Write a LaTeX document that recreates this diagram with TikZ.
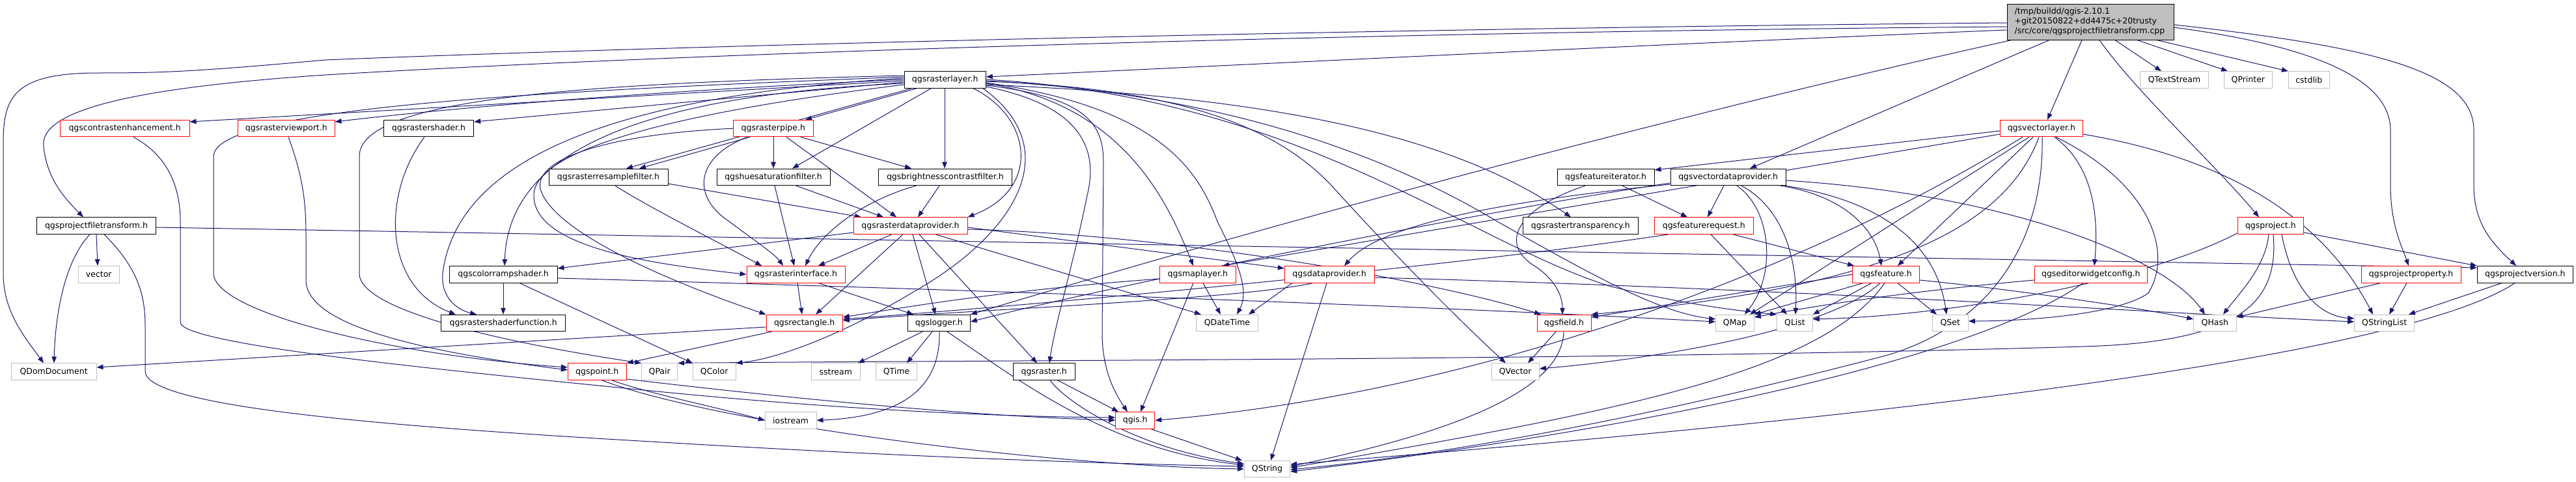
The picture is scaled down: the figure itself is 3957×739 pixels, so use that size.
\documentclass[tikz,border=0pt]{standalone}
\usepackage{fontspec}
\setmainfont{DejaVu Sans}
\usetikzlibrary{arrows.meta}
\definecolor{edgec}{HTML}{191970}
\definecolor{nodered}{HTML}{FF0000}
\definecolor{nodegrey}{HTML}{BFBFBF}
\definecolor{topfill}{HTML}{BFBFBF}
\pgfdeclarelayer{bgfill}
\pgfdeclarelayer{edges}
\pgfsetlayers{bgfill,edges,main}
\newcommand\nd[6]{\node[box,#5,minimum width={(#3)-(#2)}] (#1) at ({((#2)+(#3))/2},#4) {#6};}
\tikzset{
  box/.style={rectangle, fill=white, minimum height=25.5pt, inner sep=0pt, line width=1pt, font=\fontsize{12.5}{15}\selectfont, text=black},
  bbox/.style={draw=black},
  rbox/.style={draw=nodered},
  gbox/.style={draw=nodegrey},
  e/.style={draw=edgec, line width=1pt, -{Triangle[length=10pt,width=7.5pt]}}
}
\begin{document}
\begin{tikzpicture}[x=1pt,y=-1pt]
\begin{pgfonlayer}{bgfill}
\fill[white] (0,0) rectangle (3957,739);
\end{pgfonlayer}
\useasboundingbox (0,0) rectangle (3957,739);
% nodes
\node[rectangle, draw=black, fill=topfill, line width=1pt, minimum width=256pt, minimum height=55pt, inner sep=0pt, text width=233pt, align=left, font=\fontsize{12.5}{15}\selectfont] (top) at (3211,33.5) {/tmp/buildd/qgis-2.10.1\\+git20150822+dd4475c+20trusty\\/src/core/qgsprojectfiletransform.cpp};
\nd{rlayer}{1389}{1514.3}{122.5}{bbox}{qgsrasterlayer.h}
\nd{qtextstream}{3287.3}{3392.7}{122.5}{gbox}{QTextStream}
\nd{qprinter}{3416}{3490.7}{122.5}{gbox}{QPrinter}
\nd{cstdlib}{3515.3}{3578.3}{122.5}{gbox}{cstdlib}
\nd{contrast}{92.3}{291}{197.2}{rbox}{qgscontrastenhancement.h}
\nd{viewport}{365.7}{514}{197.2}{rbox}{qgsrasterviewport.h}
\nd{shader}{589.3}{727.7}{197.2}{bbox}{qgsrastershader.h}
\nd{pipe}{1126.3}{1249.3}{197.2}{rbox}{qgsrasterpipe.h}
\nd{vlayer}{3072.3}{3199.3}{197.2}{rbox}{qgsvectorlayer.h}
\nd{resample}{843}{1026}{271.9}{bbox}{qgsrasterresamplefilter.h}
\nd{huesat}{1101}{1275}{271.9}{bbox}{qgshuesaturationfilter.h}
\nd{bright}{1349.7}{1554}{271.9}{bbox}{qgsbrightnesscontrastfilter.h}
\nd{fiter}{2392}{2541}{271.9}{bbox}{qgsfeatureiterator.h}
\nd{vdp}{2566}{2743.3}{271.9}{bbox}{qgsvectordataprovider.h}
\nd{pft}{56.7}{239.3}{346.6}{bbox}{qgsprojectfiletransform.h}
\nd{rdp}{1311}{1486}{346.6}{rbox}{qgsrasterdataprovider.h}
\nd{rtrans}{2339}{2516.7}{346.6}{bbox}{qgsrastertransparency.h}
\nd{freq}{2541.3}{2693.3}{346.6}{rbox}{qgsfeaturerequest.h}
\nd{project}{3437}{3538.7}{346.6}{rbox}{qgsproject.h}
\nd{vector}{120.3}{183.3}{421.3}{gbox}{vector}
\nd{cramp}{690.3}{856}{421.3}{bbox}{qgscolorrampshader.h}
\nd{rif}{1147}{1298}{421.3}{rbox}{qgsrasterinterface.h}
\nd{maplayer}{1781.7}{1898}{421.3}{rbox}{qgsmaplayer.h}
\nd{dprov}{1973.3}{2111}{421.3}{rbox}{qgsdataprovider.h}
\nd{feature}{2845.7}{2948.3}{421.3}{rbox}{qgsfeature.h}
\nd{ewc}{3125.3}{3298.3}{421.3}{rbox}{qgseditorwidgetconfig.h}
\nd{pprop}{3627}{3780.3}{421.3}{rbox}{qgsprojectproperty.h}
\nd{pver}{3805.3}{3952.3}{421.3}{bbox}{qgsprojectversion.h}
\nd{sfunc}{677.7}{868.7}{496}{bbox}{qgsrastershaderfunction.h}
\nd{rect}{1177}{1294.3}{496}{rbox}{qgsrectangle.h}
\nd{logger}{1394.3}{1490.3}{496}{bbox}{qgslogger.h}
\nd{qdatetime}{1837.7}{1932.3}{496}{gbox}{QDateTime}
\nd{field}{2361}{2444}{496}{rbox}{qgsfield.h}
\nd{qmap}{2635.7}{2694.3}{496}{gbox}{QMap}
\nd{qlist}{2729.7}{2784.3}{496}{gbox}{QList}
\nd{qset}{2968.3}{3023.3}{496}{gbox}{QSet}
\nd{qhash}{3369.7}{3435}{496}{gbox}{QHash}
\nd{qstringlist}{3616.7}{3708.7}{496}{gbox}{QStringList}
\nd{qdomdoc}{17.3}{148}{570.7}{gbox}{QDomDocument}
\nd{point}{872.3}{962.3}{570.7}{rbox}{qgspoint.h}
\nd{qpair}{985.7}{1040.7}{570.7}{gbox}{QPair}
\nd{qcolor}{1064.3}{1130}{570.7}{gbox}{QColor}
\nd{sstream}{1246.3}{1321.3}{570.7}{gbox}{sstream}
\nd{qtime}{1345.7}{1408.3}{570.7}{gbox}{QTime}
\nd{raster}{1556.3}{1651}{570.7}{bbox}{qgsraster.h}
\nd{qvector}{2291}{2364.3}{570.7}{gbox}{QVector}
\nd{iostream}{1175.3}{1254}{645.4}{gbox}{iostream}
\nd{qgis}{1713.7}{1773.7}{645.4}{rbox}{qgis.h}
\nd{qstring}{1911.3}{1981.7}{720.1}{gbox}{QString}
\begin{pgfonlayer}{edges}
% top node
\draw[e] (top.west |- 0,41) .. controls (2000,50) and (1000,85) .. (500,115) .. controls (200,135) and (60,170) .. (67,225) .. controls (72,275) and (100,305) .. (pft.north -| 128,0);
\draw[e] (top.west |- 0,35) .. controls (2000,45) and (1000,72) .. (500,92) .. controls (300,110) and (250,112) .. (150,112) .. controls (20,112) and (5,150) .. (5,220) -- (5,420) .. controls (5,480) and (40,520) .. (qdomdoc.north -| 67,0);
\draw[e] (top.west |- 0,46) .. controls (2500,70) and (1900,100) .. (rlayer.east |- 0,118);
\draw[e] (top.south -| 3090,0) .. controls (2600,170) and (2000,330) .. (logger.north east);
\draw[e] (top.south -| 3148,0) -- (vdp.north -| 2688,0);
\draw[e] (top.south -| 3198,0) -- (vlayer.north -| 3145,0);
\draw[e] (top.south -| 3225,0) .. controls (3280,140) and (3400,250) .. (project.north -| 3470,0);
\draw[e] (top.south -| 3249,0) -- (qtextstream.north -| 3320,0);
\draw[e] (top.south -| 3283,0) -- (qprinter.north -| 3422,0);
\draw[e] (top.south -| 3313,0) -- (cstdlib.north west);
\draw[e] (top.east |- 0,42) .. controls (3550,70) and (3672,120) .. (3672,200) -- (3672,285) .. controls (3672,345) and (3690,380) .. (pprop.north -| 3700,0);
\draw[e] (top.east |- 0,38) .. controls (3650,72) and (3800,110) .. (3800,200) -- (3800,285) .. controls (3800,345) and (3830,375) .. (pver.north -| 3865,0);
% qgsprojectfiletransform.h
\draw[e] (pft.south -| 148,0) -- (vector.north -| 150,0);
\draw[e] (pft.south -| 138,0) .. controls (100,400) and (85,480) .. (qdomdoc.north -| 83,0);
\draw[e] (pft.south -| 160,0) .. controls (210,410) and (223,450) .. (223,500) -- (223,570) .. controls (223,625) and (600,655) .. (1000,678) .. controls (1400,702) and (1700,712) .. (qstring.west |- 0,716);
\draw[e] (pft.east |- 0,349) -- (pver.west |- 0,411);
% qgsrasterlayer.h
\draw[e] (rlayer.west |- 0,124) -- (contrast.east |- 0,187);
\draw[e] (rlayer.west |- 0,122) .. controls (1000,140) and (700,165) .. (viewport.east |- 0,187);
\draw[e] (rlayer.west |- 0,126) -- (shader.east |- 0,187);
\draw[e] (rlayer.south -| 1408,0) -- (pipe.north -| 1237,0);
\draw[e] (rlayer.south -| 1400,0) -- (resample.north -| 962,0);
\draw[e] (rlayer.south -| 1430,0) -- (huesat.north -| 1217,0);
\draw[e] (rlayer.south -| 1451,0) -- (bright.north -| 1451,0);
\draw[e] (rlayer.south -| 1495,0) .. controls (1585,180) and (1600,290) .. (rdp.north east);
\draw[e] (rlayer.east |- 0,130) .. controls (2000,150) and (2250,220) .. (rtrans.north -| 2413,0);
\draw[e] (rlayer.west |- 0,128) .. controls (900,150) and (780,270) .. (cramp.north -| 775,0);
\draw[e] (rlayer.west |- 0,130) .. controls (1100,165) and (820,220) .. (820,300) .. controls (820,380) and (1000,405) .. (rif.west);
\draw[e] (rlayer.east |- 0,128) .. controls (1720,160) and (1790,300) .. (maplayer.north -| 1833,0);
\draw[e] (rlayer.west |- 0,120) .. controls (900,150) and (700,260) .. (680,420) .. controls (677,455) and (700,475) .. (sfunc.north -| 732,0);
\draw[e] (rlayer.west |- 0,118) .. controls (900,138) and (330,160) .. (328,240) -- (328,420) .. controls (330,480) and (600,545) .. (point.west |- 0,564);
\draw[e] (rlayer.west |- 0,116) .. controls (900,128) and (552,150) .. (552,240) -- (552,420) .. controls (552,480) and (800,530) .. (qpair.north west);
\draw[e] (rlayer.south -| 1510,0) .. controls (1640,230) and (1560,360) .. (1400,450) .. controls (1300,510) and (1200,550) .. (qcolor.north east);
\draw[e] (rlayer.east |- 0,133) .. controls (1650,160) and (1690,220) .. (1670,300) .. controls (1650,400) and (1620,500) .. (raster.north -| 1612,0);
\draw[e] (rlayer.east |- 0,131) .. controls (1670,150) and (1695,190) .. (1695,250) -- (1693,510) .. controls (1693,565) and (1710,600) .. (qgis.north -| 1732,0);
\draw[e] (rlayer.east |- 0,127) .. controls (1780,165) and (1840,260) .. (1870,340) .. controls (1900,400) and (1920,445) .. (qdatetime.north -| 1900,0);
\draw[e] (rlayer.east |- 0,125) .. controls (1800,135) and (1960,190) .. (2050,290) .. controls (2150,400) and (2250,500) .. (qvector.north -| 2313,0);
\draw[e] (rlayer.east |- 0,124) .. controls (1900,145) and (2150,250) .. (2300,340) .. controls (2450,425) and (2550,480) .. (qmap.west |- 0,490);
\draw[e] (rlayer.east |- 0,122) .. controls (2000,150) and (2250,370) .. (2475,440) .. controls (2600,470) and (2680,478) .. (qlist.north west);
% qgscontrastenhancement.h, qgsrasterviewport.h, qgsrastershader.h
\draw[e] (contrast.south -| 205,0) .. controls (260,240) and (277,290) .. (277,340) -- (277,495) .. controls (280,530) and (700,570) .. (1000,600) .. controls (1300,630) and (1550,640) .. (qgis.west |- 0,641);
\draw[e] (viewport.south -| 443,0) .. controls (465,270) and (470,310) .. (470,360) -- (470,430) .. controls (470,500) and (650,540) .. (point.west |- 0,568);
\draw[e] (shader.south -| 652,0) .. controls (585,300) and (590,440) .. (sfunc.north -| 700,0);
% qgsrasterpipe.h
\draw[e] (pipe.south -| 1152,0) -- (resample.north -| 982,0);
\draw[e] (pipe.south -| 1188,0) -- (huesat.north -| 1188,0);
\draw[e] (pipe.south -| 1230,0) -- (bright.north -| 1400,0);
\draw[e] (pipe.south -| 1208,0) -- (rdp.north -| 1377,0);
\draw[e] (pipe.south -| 1148,0) .. controls (1070,240) and (1060,300) .. (1120,340) .. controls (1160,370) and (1190,390) .. (rif.north -| 1203,0);
\draw[e] (pipe.west) .. controls (950,205) and (820,240) .. (830,290) .. controls (850,360) and (1050,440) .. (rect.north west);
% filters
\draw[e] (resample.east |- 0,282) -- (rdp.north -| 1323,0);
\draw[e] (resample.south -| 945,0) .. controls (1000,320) and (1100,370) .. (rif.north -| 1170,0);
\draw[e] (huesat.south -| 1190,0) -- (rif.north -| 1220,0);
\draw[e] (huesat.south -| 1223,0) -- (rdp.north -| 1357,0);
\draw[e] (bright.south -| 1443,0) -- (rdp.north -| 1410,0);
\draw[e] (bright.south -| 1407,0) .. controls (1320,310) and (1260,360) .. (rif.north -| 1237,0);
% qgsrasterdataprovider.h
\draw[e] (rdp.south -| 1370,0) -- (rif.north -| 1257,0);
\draw[e] (rdp.south -| 1387,0) -- (rect.north -| 1253,0);
\draw[e] (rdp.south -| 1402,0) -- (logger.north -| 1437,0);
\draw[e] (rdp.south -| 1412,0) -- (raster.north -| 1593,0);
\draw[e] (rdp.west |- 0,357) -- (cramp.east |- 0,412);
\draw[e] (rdp.south -| 1437,0) -- (qdatetime.north -| 1845,0);
\draw[e] (rdp.east |- 0,349) -- (dprov.west |- 0,412);
\draw[e] (rdp.east |- 0,352) .. controls (1800,360) and (2200,430) .. (field.north -| 2367,0);
% qgsrasterinterface.h, qgsrectangle.h
\draw[e] (rif.south -| 1225,0) -- (rect.north -| 1232,0);
\draw[e] (rif.south -| 1257,0) -- (logger.north -| 1403,0);
\draw[e] (rect.west |- 0,502) -- (qdomdoc.east |- 0,564);
\draw[e] (rect.south -| 1185,0) -- (point.north east);
% qgslogger.h
\draw[e] (logger.south -| 1417,0) -- (sstream.north -| 1318,0);
\draw[e] (logger.south -| 1432,0) -- (qtime.north -| 1393,0);
\draw[e] (logger.south -| 1443,0) .. controls (1445,600) and (1380,640) .. (iostream.east);
\draw[e] (logger.south -| 1455,0) .. controls (1560,580) and (1700,690) .. (qstring.west |- 0,714);
% qgspoint.h, qgsraster.h, qgis.h
\draw[e] (point.east |- 0,582) .. controls (1200,610) and (1500,640) .. (qgis.west |- 0,645);
\draw[e] (point.south -| 940,0) .. controls (1000,605) and (1100,625) .. (iostream.west);
\draw[e] (point.south -| 925,0) .. controls (1100,650) and (1600,715) .. (qstring.west |- 0,720);
\draw[e] (raster.south -| 1625,0) -- (qgis.north -| 1718,0);
\draw[e] (raster.south -| 1613,0) .. controls (1640,620) and (1750,690) .. (qstring.west |- 0,712);
\draw[e] (qgis.south -| 1768,0) -- (qstring.north -| 1908,0);
% qgsmaplayer.h, qgsdataprovider.h
\draw[e] (maplayer.south -| 1833,0) -- (qgis.north -| 1752,0);
\draw[e] (maplayer.south -| 1848,0) -- (qdatetime.north -| 1875,0);
\draw[e] (maplayer.west |- 0,428) .. controls (1550,445) and (1400,470) .. (rect.east |- 0,487);
\draw[e] (dprov.south -| 2017,0) .. controls (1900,460) and (1500,475) .. (rect.east |- 0,492);
\draw[e] (dprov.south -| 2038,0) -- (qstring.north -| 1952,0);
\draw[e] (dprov.east |- 0,426) .. controls (2800,445) and (3300,480) .. (qstringlist.west |- 0,494);
\draw[e] (dprov.south -| 1985,0) -- (qdatetime.north -| 1918,0);
% qgsfield.h
\draw[e] (field.south -| 2390,0) -- (qvector.north -| 2347,0);
\draw[e] (field.south -| 2402,0) .. controls (2400,580) and (2300,650) .. (qstring.east |- 0,716);
% qgsfeature.h
\draw[e] (feature.south -| 2862,0) -- (qmap.north east);
\draw[e] (feature.south -| 2875,0) -- (qlist.north east);
\draw[e] (feature.south -| 2915,0) -- (qset.north -| 2975,0);
\draw[e] (feature.south -| 2888,0) .. controls (2800,515) and (2500,555) .. (qvector.east |- 0,566);
\draw[e] (feature.south -| 2895,0) .. controls (2800,570) and (2500,630) .. (qstring.east |- 0,718);
\draw[e] (feature.west) -- (field.east |- 0,487);
\draw[e] (feature.east |- 0,430) .. controls (3100,445) and (3300,475) .. (qhash.west |- 0,490);
% qgsfeaturerequest.h, qgsfeatureiterator.h
\draw[e] (freq.south -| 2662,0) -- (feature.north -| 2848,0);
\draw[e] (freq.south -| 2628,0) -- (qlist.north -| 2745,0);
\draw[e] (freq.south -| 2563,0) .. controls (2300,400) and (1700,460) .. (rect.east |- 0,490);
\draw[e] (fiter.south -| 2492,0) -- (freq.north -| 2592,0);
\draw[e] (fiter.south -| 2435,0) .. controls (2330,320) and (2300,375) .. (2360,410) .. controls (2395,435) and (2400,460) .. (field.north -| 2400,0);
% qgsvectordataprovider.h
\draw[e] (vdp.south -| 2648,0) -- (freq.north -| 2623,0);
\draw[e] (vdp.south -| 2668,0) .. controls (2720,320) and (2730,420) .. (qmap.north -| 2680,0);
\draw[e] (vdp.south -| 2675,0) .. controls (2740,320) and (2762,400) .. (qlist.north -| 2758,0);
\draw[e] (vdp.south -| 2735,0) .. controls (2830,300) and (2880,350) .. (feature.north -| 2890,0);
\draw[e] (vdp.south -| 2742,0) .. controls (2900,310) and (2975,380) .. (qset.north -| 2990,0);
\draw[e] (vdp.east |- 0,277) .. controls (3100,300) and (3330,400) .. (qhash.north -| 3387,0);
\draw[e] (vdp.west |- 0,283) .. controls (2300,310) and (2120,345) .. (dprov.north -| 2065,0);
\draw[e] (vdp.west |- 0,281) .. controls (2300,320) and (1700,440) .. (logger.east |- 0,494);
% qgsvectorlayer.h
\draw[e] (vlayer.west |- 0,201) -- (fiter.east |- 0,261);
\draw[e] (vlayer.west |- 0,206) -- (maplayer.north -| 1878,0);
\draw[e] (vlayer.south -| 3117,0) -- (qmap.north -| 2688,0);
\draw[e] (vlayer.south -| 3123,0) -- (feature.north -| 2915,0);
\draw[e] (vlayer.south -| 3158,0) .. controls (3300,280) and (3340,385) .. (3300,450) .. controls (3250,485) and (3100,493) .. (qset.east |- 0,493);
\draw[e] (vlayer.south -| 3107,0) .. controls (2800,400) and (2300,600) .. (qgis.east);
\draw[e] (vlayer.south -| 3137,0) .. controls (3140,380) and (3050,500) .. (2900,545) .. controls (2500,650) and (2200,700) .. (qstring.east |- 0,721);
\draw[e] (vlayer.south -| 3156,0) .. controls (3210,250) and (3225,320) .. (ewc.north -| 3217,0);
\draw[e] (vlayer.east |- 0,206) .. controls (3400,240) and (3560,320) .. (qstringlist.north -| 3645,0);
\draw[e] (vlayer.south -| 3132,0) .. controls (3080,350) and (2900,440) .. (field.north east);
% qgseditorwidgetconfig.h
\draw[e] (ewc.west |- 0,430) .. controls (2900,450) and (2760,475) .. (qmap.east |- 0,487);
\draw[e] (ewc.south -| 3200,0) .. controls (3050,540) and (2600,650) .. (qstring.east |- 0,724);
% qgsproject.h
\draw[e] (project.east |- 0,357) -- (pver.north west);
\draw[e] (project.south -| 3485,0) .. controls (3480,410) and (3440,450) .. (qhash.north -| 3415,0);
\draw[e] (project.south -| 3492,0) .. controls (3500,460) and (3450,525) .. (3200,532) .. controls (2500,553) and (1500,553) .. (qpair.north east);
\draw[e] (project.south -| 3505,0) .. controls (3520,440) and (3560,485) .. (qstringlist.west |- 0,489);
\draw[e] (project.west |- 0,358) .. controls (3300,430) and (3000,485) .. (qlist.east |- 0,490);
% qgsprojectproperty.h, qgsprojectversion.h
\draw[e] (pprop.south -| 3697,0) -- (qstringlist.north -| 3670,0);
\draw[e] (pprop.south -| 3657,0) -- (qhash.east |- 0,487);
\draw[e] (pver.south -| 3843,0) -- (qstringlist.north -| 3700,0);
\draw[e] (pver.south -| 3863,0) .. controls (3750,510) and (3300,610) .. (qstring.east |- 0,713);
% qgscolorrampshader.h
\draw[e] (cramp.south -| 773,0) -- (sfunc.north -| 773,0);
\draw[e] (cramp.south -| 798,0) -- (qcolor.north west);
\draw[e] (cramp.east |- 0,427) .. controls (1500,445) and (2200,470) .. (qmap.west |- 0,494);
\end{pgfonlayer}
\end{tikzpicture}
\end{document}
